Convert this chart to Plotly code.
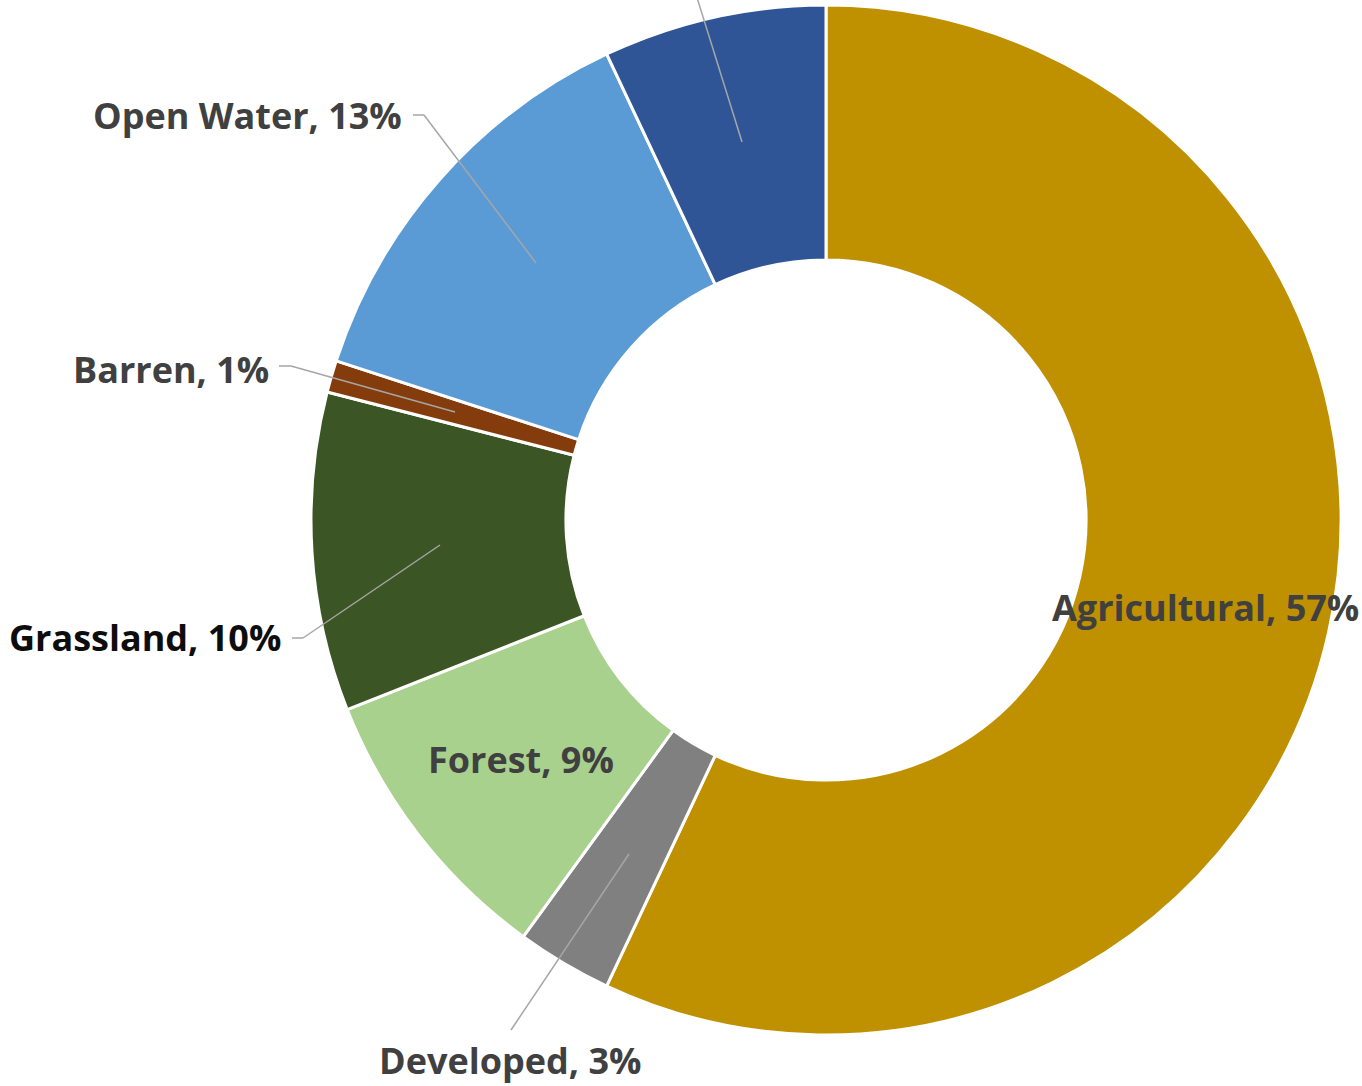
import plotly.graph_objects as go

# Land cover shares (percent)
categories = ["Agricultural", "Developed", "Forest", "Grassland", "Barren", "Open Water", "Wetlands"]
shares = [57, 3, 9, 10, 1, 13, 7]
colors = ["#BF9000", "#808080", "#A9D18E", "#3B5524", "#843C0C", "#5B9BD5", "#2F5597"]

W, H = 1362, 1086


def px(x):
    return x / W


def py(y):
    return 1 - y / H


fig = go.Figure()
fig.add_trace(go.Pie(
    labels=categories,
    values=shares,
    marker=dict(colors=colors, line=dict(color="white", width=3)),
    hole=0.505,
    sort=False,
    direction="clockwise",
    rotation=0,
    textinfo="none",
    showlegend=False,
    domain=dict(x=[px(311), px(1341)], y=[py(1035), py(5)]),
))

# (category index, anchor x, anchor y, xanchor, text colour)
label_specs = [
    (0, 1205, 607, "center", "#404040"),
    (1, 510, 1060, "center", "#404040"),
    (2, 521, 759, "center", "#404040"),
    (3, 283, 637, "right", "#0D0D0D"),
    (4, 271, 369, "right", "#404040"),
    (5, 404, 116, "right", "#404040"),
]
total = sum(shares)
for i, x, y, xa, col in label_specs:
    pct = round(100 * shares[i] / total)
    fig.add_annotation(
        x=px(x), y=py(y), xref="paper", yref="paper",
        text=f"<b>{categories[i]}, {pct}%</b>",
        showarrow=False, xanchor=xa, yanchor="middle",
        font=dict(family="Open Sans", size=36, color=col),
    )

# Leader lines (polyline points in pixels)
leaders = [
    [(413, 115), (424, 115), (536, 263)],
    [(279, 366), (291, 366), (455, 412)],
    [(292, 638), (303, 638), (440, 545)],
    [(511, 1030), (629, 854)],
    [(742, 142), (694, -12)],
]
for pts in leaders:
    for (x0, y0), (x1, y1) in zip(pts[:-1], pts[1:]):
        fig.add_shape(
            type="line", xref="paper", yref="paper",
            x0=px(x0), y0=py(y0), x1=px(x1), y1=py(y1),
            line=dict(color="#A6A6A6", width=1.5),
        )

fig.update_layout(
    width=W, height=H,
    margin=dict(l=0, r=0, t=0, b=0),
    paper_bgcolor="white",
    plot_bgcolor="white",
)

fig.write_html("out.html")
